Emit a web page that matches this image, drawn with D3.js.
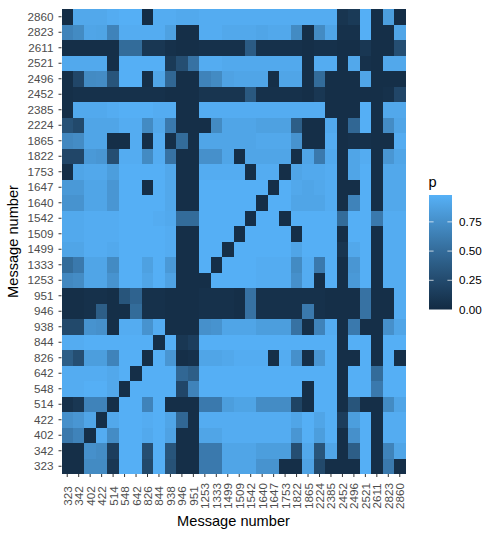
<!DOCTYPE html>
<html><head><meta charset="utf-8">
<script src="https://cdn.jsdelivr.net/npm/d3@7"></script>
<style>html,body{margin:0;padding:0;background:#fff}svg{display:block}text{font-family:"Liberation Sans",Arial,sans-serif}</style>
</head><body><svg id="c" width="498" height="536"></svg>
<script>
const messages = [323,342,402,422,514,548,642,826,844,938,946,951,1253,1333,1499,1509,1542,1640,1647,1753,1822,1865,2224,2385,2452,2496,2521,2611,2823,2860];
const legendTicks = [0,0.25,0.5,0.75];
const r2860=[.02,.92,.92,.92,.95,.97,.97,.02,.95,.95,.93,.93,.95,.95,.95,.95,.95,.95,.95,.95,.95,.95,.95,.95,.08,.12,.97,.03,.85,.02];
const r2823=[.67,.72,.9,.89,.67,.95,.95,.95,.95,.87,.03,.03,.95,.95,.92,.92,.92,.9,.92,.92,.72,.03,.72,.9,.05,.05,.97,.03,.03,.9];
const r2611=[.03,.03,.03,.03,.03,.5,.5,.1,.1,.05,.03,.03,.05,.05,.05,.05,.38,.05,.05,.05,.05,.03,.05,.05,.03,.03,.1,.03,.03,.28];
const r2521=[.93,.93,.93,.93,.03,.97,.97,.97,.97,.12,.28,.55,.95,.95,.93,.93,.93,.93,.93,.93,.93,.03,.95,.95,.03,.92,.05,.03,.92,.92];
const r2496=[.03,.22,.72,.73,.33,.97,.97,.03,.9,.47,.03,.03,.67,.72,.88,.9,.9,.9,.03,.9,.9,.03,.5,.03,.03,.03,.9,.03,.03,.03];
const r2452=[.03,.05,.05,.05,.05,.05,.05,.05,.05,.03,.03,.03,.08,.08,.08,.08,.36,.05,.05,.05,.05,.03,.1,.03,.03,.03,.03,.03,.05,.22];
const r2385=[.03,.93,.93,.93,.95,.97,.97,.97,.95,.95,.03,.03,.95,.95,.95,.95,.95,.95,.95,.95,.95,.95,.95,.03,.03,.03,.97,.03,.92,.92];
const r2224=[.31,.24,.9,.9,.9,.95,.95,.72,.92,.6,.03,.03,.03,.72,.9,.9,.9,.87,.87,.87,.4,.03,.03,.93,.03,.47,.97,.03,.73,.9];
const r1865=[.7,.73,.9,.9,.03,.03,.95,.03,.95,.03,.5,.03,.9,.9,.9,.9,.9,.92,.92,.92,.78,.03,.03,.95,.03,.05,.05,.03,.03,.95];
const r1822=[.22,.22,.82,.8,.28,.95,.95,.72,.95,.55,.03,.03,.76,.76,.9,.03,.9,.9,.9,.9,.03,.9,.6,.93,.03,.9,.95,.03,.8,.9];
const r1753=[.03,.9,.92,.92,.85,.97,.97,.97,.97,.92,.03,.03,.95,.95,.95,.95,.03,.95,.95,.03,.9,.93,.93,.95,.03,.9,.97,.03,.92,.92];
const r1647=[.82,.82,.9,.9,.8,.97,.97,.03,.97,.92,.03,.03,.97,.97,.97,.97,.97,.97,.03,.97,.92,.9,.92,.95,.03,.03,.97,.03,.92,.92];
const r1640=[.78,.78,.9,.9,.8,.97,.97,.97,.97,.92,.03,.03,.97,.97,.97,.97,.97,.03,.97,.97,.9,.9,.9,.95,.03,.67,.97,.03,.92,.92];
const r1542=[.93,.93,.95,.95,.95,.97,.97,.97,.95,.93,.5,.5,.97,.97,.97,.97,.03,.97,.97,.03,.97,.97,.97,.97,.5,.97,.97,.6,.95,.95];
const r1509=[.93,.93,.95,.95,.95,.97,.97,.97,.97,.95,.03,.03,.97,.97,.97,.03,.97,.97,.97,.97,.03,.97,.97,.97,.03,.97,.97,.03,.95,.95];
const r1499=[.9,.9,.95,.95,.93,.97,.97,.97,.97,.95,.03,.03,.97,.97,.03,.97,.97,.97,.97,.97,.9,.97,.97,.97,.08,.92,.97,.03,.95,.95];
const r1333=[.5,.6,.9,.9,.72,.97,.97,.87,.97,.82,.03,.03,.97,.03,.97,.97,.97,.95,.95,.95,.72,.95,.6,.97,.03,.8,.97,.03,.95,.95];
const r1253=[.7,.73,.9,.9,.78,.97,.97,.9,.97,.88,.03,.03,.03,.97,.97,.97,.97,.95,.95,.95,.76,.95,.03,.97,.03,.82,.97,.03,.95,.95];
const r951=[.03,.03,.05,.05,.03,.33,.44,.05,.05,.03,.03,.03,.05,.05,.05,.03,.55,.05,.05,.05,.05,.05,.05,.03,.03,.03,.55,.03,.03,.95];
const r946=[.03,.03,.05,.4,.03,.03,.5,.05,.05,.03,.03,.03,.05,.05,.05,.03,.55,.05,.05,.05,.05,.6,.05,.03,.03,.03,.55,.03,.03,.95];
const r938=[.24,.24,.78,.76,.03,.95,.95,.78,.95,.03,.03,.03,.76,.78,.9,.9,.9,.85,.85,.85,.55,.03,.67,.95,.03,.6,.03,.03,.76,.9];
const r844=[.95,.95,.97,.97,.97,.97,.97,.97,.03,.97,.1,.15,.97,.97,.97,.97,.97,.97,.97,.97,.97,.97,.97,.97,.03,.97,.97,.03,.97,.97];
const r826=[.4,.28,.85,.85,.67,.97,.97,.03,.97,.8,.03,.05,.9,.9,.92,.95,.95,.95,.03,.95,.76,.03,.8,.97,.03,.03,.97,.03,.97,.03];
const r642=[.95,.95,.95,.95,.92,.97,.03,.97,.97,.97,.47,.4,.97,.97,.97,.97,.97,.97,.97,.97,.97,.97,.97,.97,.03,.97,.97,.5,.97,.97];
const r548=[.95,.95,.97,.97,.92,.03,.97,.97,.97,.97,.22,.67,.97,.97,.97,.97,.97,.97,.97,.97,.97,.03,.97,.97,.03,.97,.97,.6,.97,.97];
const r514=[.05,.1,.67,.67,.03,.97,.97,.67,.97,.03,.03,.03,.6,.6,.85,.89,.89,.73,.73,.73,.2,.03,.97,.97,.03,.33,.03,.03,.72,.9];
const r422=[.76,.8,.9,.03,.92,.97,.97,.95,.97,.9,.47,.03,.95,.95,.95,.95,.95,.95,.95,.95,.9,.97,.9,.97,.15,.85,.97,.03,.95,.95];
const r402=[.6,.67,.03,.95,.73,.97,.97,.93,.97,.88,.03,.03,.9,.9,.95,.95,.95,.95,.95,.95,.8,.97,.85,.97,.03,.76,.97,.03,.95,.95];
const r342=[.03,.03,.76,.73,.15,.97,.97,.28,.97,.33,.03,.03,.6,.6,.9,.9,.9,.85,.85,.85,.28,.92,.33,.9,.03,.4,.97,.03,.67,.9];
const r323=[.03,.03,.72,.72,.1,.97,.97,.24,.97,.31,.03,.03,.6,.6,.9,.9,.9,.78,.78,.03,.03,.88,.24,.03,.03,.03,.97,.03,.6,.03];
const rows=[r323,r342,r402,r422,r514,r548,r642,r826,r844,r938,r946,r951,r1253,r1333,r1499,r1509,r1542,r1640,r1647,r1753,r1822,r1865,r2224,r2385,r2452,r2496,r2521,r2611,r2823,r2860];

const svg=d3.select("#c");
const x=d3.scaleBand().domain(messages).range([61.5,405.5]);
const y=d3.scaleBand().domain(messages).range([474,9]);
const color=d3.scaleLinear().domain([0,0.98]).range(["#132B43","#56B1F7"]).interpolate(d3.interpolateLab).clamp(true);

const cells=rows.flatMap((r,i)=>r.map((p,j)=>({row:messages[i],col:messages[j],p})));
svg.append("g").attr("shape-rendering","crispEdges").selectAll("rect").data(cells).join("rect")
  .attr("x",d=>x(d.col)).attr("y",d=>y(d.row))
  .attr("width",x.bandwidth()).attr("height",y.bandwidth())
  .attr("fill",d=>color(d.p));

const xAxis=svg.append("g").attr("transform","translate(0,474)").call(d3.axisBottom(x).tickSize(3).tickPadding(2));
xAxis.select(".domain").remove();
xAxis.selectAll("line").attr("stroke","#333");
xAxis.selectAll("text")
  .attr("text-anchor","middle").attr("dy",null).attr("y",null).attr("dominant-baseline","central")
  .attr("transform","translate(0,22) rotate(-90)").attr("font-size",11.7).attr("fill","#4d4d4d");
const yAxis=svg.append("g").attr("transform","translate(61.5,0)").call(d3.axisLeft(y).tickSize(3).tickPadding(5));
yAxis.select(".domain").remove();
yAxis.selectAll("line").attr("stroke","#333");
yAxis.selectAll("text").attr("font-size",11.7).attr("fill","#4d4d4d");

svg.append("text").attr("x",233.5).attr("y",525.5).attr("text-anchor","middle").attr("font-size",14.6).attr("fill","#000").text("Message number");
svg.append("text").attr("transform","translate(17.5,241.5) rotate(-90)").attr("text-anchor","middle").attr("font-size",14.6).attr("fill","#000").text("Message number");

// legend
const lx=429,lw=23,ly=d3.scaleLinear().domain([0,0.98]).range([309.5,195]);
const defs=svg.append("defs");
const grad=defs.append("linearGradient").attr("id","g").attr("x1",0).attr("x2",0).attr("y1",1).attr("y2",0);
d3.range(0,1.001,.1).forEach(t=>grad.append("stop").attr("offset",t).attr("stop-color",color(t*.98)));
svg.append("rect").attr("x",lx).attr("y",195).attr("width",lw).attr("height",114.5).attr("fill","url(#g)");
legendTicks.forEach(t=>{
  const yy=ly(t);
  if(t>0){
    svg.append("line").attr("x1",lx).attr("x2",lx+4.6).attr("y1",yy).attr("y2",yy).attr("stroke","#fff").attr("stroke-opacity",.7);
    svg.append("line").attr("x1",lx+lw-4.6).attr("x2",lx+lw).attr("y1",yy).attr("y2",yy).attr("stroke","#fff").attr("stroke-opacity",.7);
  }
  svg.append("text").attr("x",459).attr("y",yy+4).attr("font-size",11.7).attr("fill","#000").text(t.toFixed(2));
});
svg.append("text").attr("x",428.5).attr("y",186.5).attr("font-size",14.6).attr("fill","#000").text("p");
</script></body></html>
